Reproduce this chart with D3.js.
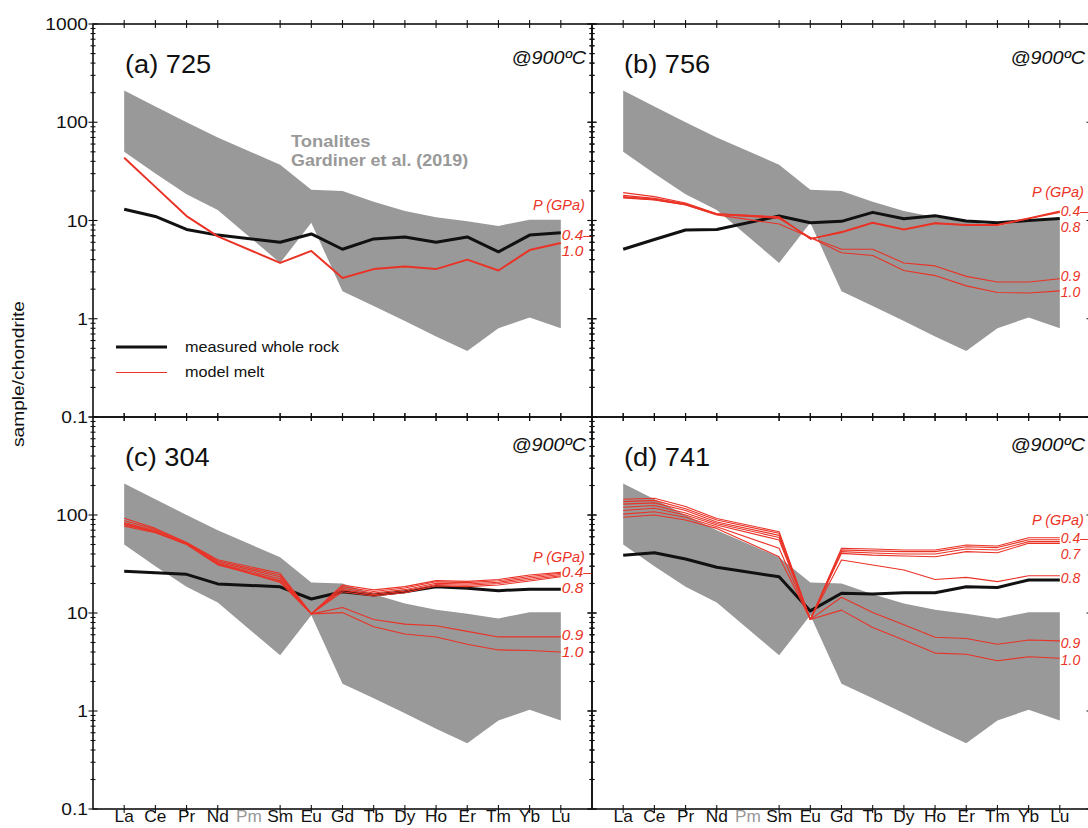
<!DOCTYPE html>
<html lang="en">
<head>
<meta charset="UTF-8" />
<title>REE patterns – model melts vs whole rock</title>
<script src="https://d3js.org/d3.v7.min.js"></script>
<style>
    body { margin: 0; background: #fff; }
    svg { display: block; font-family: "Liberation Sans", Arial, Helvetica, sans-serif; }
</style>
</head>
<body>
<div id="chart"></div>
<script>
// --- Data (chondrite-normalised, Pm not analysed) ---
const elements = ["La", "Ce", "Pr", "Nd", "Pm", "Sm", "Eu", "Gd", "Tb", "Dy", "Ho", "Er", "Tm", "Yb", "Lu"];

// Tonalite field, Gardiner et al. (2019)
const tonaliteHigh = [210, 145, 100, 70, null, 37, 20.5, 20, 15.5, 12.5, 10.8, 9.8, 8.8, 10.2, 10.2];
const tonaliteLow  = [50, 30, 18.5, 12.8, null, 3.7, 9.5, 1.9, 1.35, 0.95, 0.66, 0.47, 0.8, 1.03, 0.8];

// (a) 725
const rock725 = [13.0, 11.0, 8.1, 7.1, null, 6.0, 7.3, 5.1, 6.5, 6.8, 6.0, 6.8, 4.8, 7.1, 7.5];
const melt725 = [
    [43.6, 22, 11.1, 6.9, null, 3.7, 4.9, 2.6, 3.2, 3.4, 3.2, 4.0, 3.1, 5.0, 5.9]
];
const pLabels725 = ["P (GPa)", "0.4–", "1.0"];
const pLabelAt725 = [12.8, 6.35, 4.37];

// (b) 756
const rock756 = [5.1, 6.4, 8.0, 8.1, null, 11.1, 9.5, 9.8, 12.1, 10.4, 11.2, 9.9, 9.5, 10.0, 10.5];
const melt756 = [
    [19.2, 17.5, 15.1, 11.7, null, 10.9, 6.5, 7.7, 9.6, 8.2, 9.5, 9.1, 9.1, 10.6, 12.5],
    [18.0, 16.8, 14.8, 11.7, null, 10.8, 6.5, 7.6, 9.5, 8.1, 9.4, 9.0, 9.0, 10.5, 12.3],
    [17.2, 16.3, 14.5, 11.5, null, 10.7, 6.5, 7.5, 9.4, 8.0, 9.3, 8.9, 8.9, 10.4, 12.1],
    [17.5, 16.5, 14.7, 11.6, null, 10.5, 6.7, 5.1, 5.1, 3.7, 3.45, 2.7, 2.37, 2.37, 2.55],
    [17.0, 16.2, 14.4, 11.4, null, 9.2, 6.7, 4.7, 4.4, 3.1, 2.75, 2.16, 1.85, 1.83, 1.92]
];
const pLabels756 = ["P (GPa)", "0.4–", "0.8", "0.9", "1.0"];
const pLabelAt756 = [17.5, 11.0, 7.7, 2.45, 1.68];

// (c) 304
const rock304 = [26.6, 25.8, 24.8, 19.8, null, 18.5, 13.9, 16.5, 15.3, 16.5, 18.5, 17.9, 16.9, 17.5, 17.5];
const melt304 = [
    [92.5, 73, 52.5, 35, null, 25.4, 9.8, 19.3, 17.2, 18.6, 21.4, 21.0, 22.0, 24.4, 26.0],
    [88, 71, 52, 34, null, 24.4, 9.8, 18.6, 16.6, 18.0, 20.8, 20.4, 21.3, 23.6, 25.4],
    [84, 69, 51, 33, null, 23.4, 9.8, 17.9, 16.0, 17.3, 20.1, 19.8, 20.6, 22.8, 24.7],
    [80, 67.5, 50.5, 32, null, 22.4, 9.8, 17.2, 15.4, 16.7, 19.5, 19.2, 20.0, 22.0, 24.0],
    [77, 66, 50, 31, null, 21.4, 9.8, 16.5, 14.9, 16.1, 18.9, 18.6, 19.3, 21.2, 23.4],
    [82, 68, 51, 32, null, 21, 9.8, 11.4, 8.6, 7.7, 7.4, 6.5, 5.7, 5.7, 5.7],
    [80, 67, 50.5, 31.5, null, 20.5, 9.8, 10.1, 7.25, 6.1, 5.7, 4.8, 4.2, 4.15, 4.0]
];
const pLabels304 = ["P (GPa)", "0.4–", "0.8", "0.9", "1.0"];
const pLabelAt304 = [33.4, 23.4, 16.1, 5.3, 3.58];

// (d) 741
const rock741 = [38.8, 41.2, 35.6, 29.3, null, 23.4, 10.5, 15.9, 15.6, 16.1, 16.1, 18.5, 18.2, 21.7, 21.7];
const melt741 = [
    [145, 148, 122, 92, null, 67.6, 8.6, 45.7, 45, 44, 44, 49.4, 48.3, 58.6, 58.6],
    [137, 141, 116, 89, null, 65, 8.6, 44, 43, 42.3, 42.3, 47.5, 46.5, 56, 56],
    [129, 133, 111, 85, null, 62, 8.6, 42.3, 41, 40, 40, 45, 44, 53.5, 53.5],
    [120, 125, 105, 82, null, 59, 8.6, 40.6, 39, 38.2, 37.5, 42.3, 41.2, 51.4, 51.4],
    [111, 117, 100, 79, null, 55.6, 8.6, 34.8, 30.9, 27.5, 22, 23.1, 20.9, 24, 24],
    [102, 108, 95, 76, null, 45.7, 8.6, 14.5, 10.1, 7.6, 5.65, 5.5, 4.8, 5.3, 5.2],
    [95, 100, 89, 73, null, 37.5, 8.6, 10.7, 7.1, 5.3, 3.9, 3.8, 3.26, 3.58, 3.45]
];
const pLabels741 = ["P (GPa)", "0.4–", "0.7", "0.8", "0.9", "1.0"];
const pLabelAt741 = [79, 51.4, 35.3, 20.2, 4.37, 2.95];

const titles = ["(a) 725", "(b) 756", "(c) 304", "(d) 741"];
const yTickLabels = [1000, 100, 10, 1, 0.1];

// --- Layout ---
const W = 1088, H = 828;
const RED = "#ea3327", GREY = "#989998";
const colLeft = [93, 592];
const panelW = 499;
const rowTop = [24, 417];
const rowBottom = [417, 809];

const panels = [
    { title: titles[0], col: 0, row: 0, rock: rock725, melts: melt725, labels: pLabels725, at: pLabelAt725, meltWidth: 2 },
    { title: titles[1], col: 1, row: 0, rock: rock756, melts: melt756, labels: pLabels756, at: pLabelAt756, meltWidth: 1.1 },
    { title: titles[2], col: 0, row: 1, rock: rock304, melts: melt304, labels: pLabels304, at: pLabelAt304, meltWidth: 1.1 },
    { title: titles[3], col: 1, row: 1, rock: rock741, melts: melt741, labels: pLabels741, at: pLabelAt741, meltWidth: 1.1 }
];

const svg = d3.select("#chart").append("svg")
    .attr("width", W)
    .attr("height", H);

// text helper (the original lettering is slightly stretched horizontally)
function addText(g, x, y, str, o) {
    return g.append("text")
        .attr("transform", `translate(${x},${y}) rotate(${o.rot || 0}) scale(${o.sx || 1},1)`)
        .attr("text-anchor", o.anchor || "start")
        .attr("font-size", o.size)
        .attr("font-style", o.italic ? "italic" : null)
        .attr("font-weight", o.bold ? "bold" : null)
        .attr("fill", o.fill || "#111")
        .text(str);
}

const toPoints = arr => arr.map((v, i) => ({ i, v })).filter(d => d.v != null);

panels.forEach(p => {
    const x0 = colLeft[p.col], x1 = x0 + panelW;
    const y0 = rowTop[p.row], y1 = rowBottom[p.row];

    const x = d3.scaleLinear().domain([-1, 15]).range([x0, x1]);
    const y = d3.scaleLog().domain([0.1, 1000]).range([y1, y0]);

    const g = svg.append("g");

    // tonalite field
    const band = elements.map((e, i) => ({ i, hi: tonaliteHigh[i], lo: tonaliteLow[i] }))
        .filter(d => d.hi != null);
    g.append("path")
        .datum(band)
        .attr("fill", GREY)
        .attr("d", d3.area().x(d => x(d.i)).y0(d => y(d.lo)).y1(d => y(d.hi)));

    const line = d3.line().x(d => x(d.i)).y(d => y(d.v));

    // measured whole rock
    g.append("path")
        .datum(toPoints(p.rock))
        .attr("fill", "none")
        .attr("stroke", "#111")
        .attr("stroke-width", 3)
        .attr("stroke-linejoin", "round")
        .attr("d", line);

    // model melts
    p.melts.forEach(m => {
        g.append("path")
            .datum(toPoints(m))
            .attr("fill", "none")
            .attr("stroke", RED)
            .attr("stroke-width", p.meltWidth)
            .attr("stroke-linejoin", "round")
            .attr("d", line);
    });

    // frame
    g.append("rect")
        .attr("x", x0).attr("y", y0)
        .attr("width", panelW).attr("height", y1 - y0)
        .attr("fill", "none")
        .attr("stroke", "#111")
        .attr("stroke-width", 1.6);

    // element ticks (top and bottom, Pm has none)
    const tickIdx = elements.map((e, i) => i).filter(i => elements[i] !== "Pm");
    [y0, y1].forEach(yy => {
        g.selectAll(null).data(tickIdx).enter().append("line")
            .attr("x1", d => x(d)).attr("x2", d => x(d))
            .attr("y1", yy - 4).attr("y2", yy + 4)
            .attr("stroke", "#111").attr("stroke-width", 1.1);
    });

    // log ticks on both side spines
    const yt = y.ticks();
    [x0, x1].forEach(xx => {
        g.selectAll(null).data(yt).enter().append("line")
            .attr("x1", d => Number.isInteger(Math.log10(d)) ? xx - 4.5 : xx - 2.5)
            .attr("x2", d => Number.isInteger(Math.log10(d)) ? xx + 4.5 : xx + 2.5)
            .attr("y1", d => y(d)).attr("y2", d => y(d))
            .attr("stroke", "#111").attr("stroke-width", 1.1);
    });

    // y tick labels on the left column only
    if (p.col === 0) {
        yTickLabels.filter(v => p.row === 0 || v < 1000).forEach(v => {
            addText(g, x0 - 5, y(v) + 6, String(v), { size: 16, anchor: "end", sx: 1.2 });
        });
    }

    // element labels along the bottom row
    if (p.row === 1) {
        elements.forEach((e, i) => {
            addText(g, x(i), 822, e, { size: 16, anchor: "middle", sx: 1.08, fill: e === "Pm" ? "#999" : "#111" });
        });
    }

    // title and temperature
    addText(g, x0 + 32, y0 + 49, p.title, { size: 25, sx: 1.09 });
    addText(g, x1 - 6, y0 + (p.row === 0 ? 40 : 34), "@900ºC", { size: 19, italic: true, anchor: "end", sx: 1.04 });

    // pressure labels (kept inside the picture on the right column)
    const xl = x(14);
    const pSize = p.col === 1 ? 14 : 15.5;
    p.labels.forEach((lab, k) => {
        if (k === 0) {
            addText(g, xl + 24, y(p.at[k]), lab, { size: 14.5, italic: true, anchor: "end", fill: RED });
        } else {
            addText(g, xl + 1, y(p.at[k]), lab, { size: pSize, italic: true, fill: RED });
        }
    });
});

// tonalite field caption
addText(svg, 291, 147, "Tonalites", { size: 16, bold: true, fill: "#999", sx: 1.15 });
addText(svg, 291, 166, "Gardiner et al. (2019)", { size: 16, bold: true, fill: "#999", sx: 1.12 });

// legend
const leg = svg.append("g");
leg.append("line").attr("x1", 116).attr("x2", 167).attr("y1", 347).attr("y2", 347)
    .attr("stroke", "#111").attr("stroke-width", 3);
leg.append("line").attr("x1", 116).attr("x2", 167).attr("y1", 372.5).attr("y2", 372.5)
    .attr("stroke", RED).attr("stroke-width", 1.1);
addText(leg, 185, 352, "measured whole rock", { size: 14.5, sx: 1.12 });
addText(leg, 185, 377, "model melt", { size: 14.5, sx: 1.12 });

// y axis title
addText(svg, 24, 374, "sample/chondrite", { size: 16, anchor: "middle", rot: -90, sx: 1.2 });
</script>
</body>
</html>
